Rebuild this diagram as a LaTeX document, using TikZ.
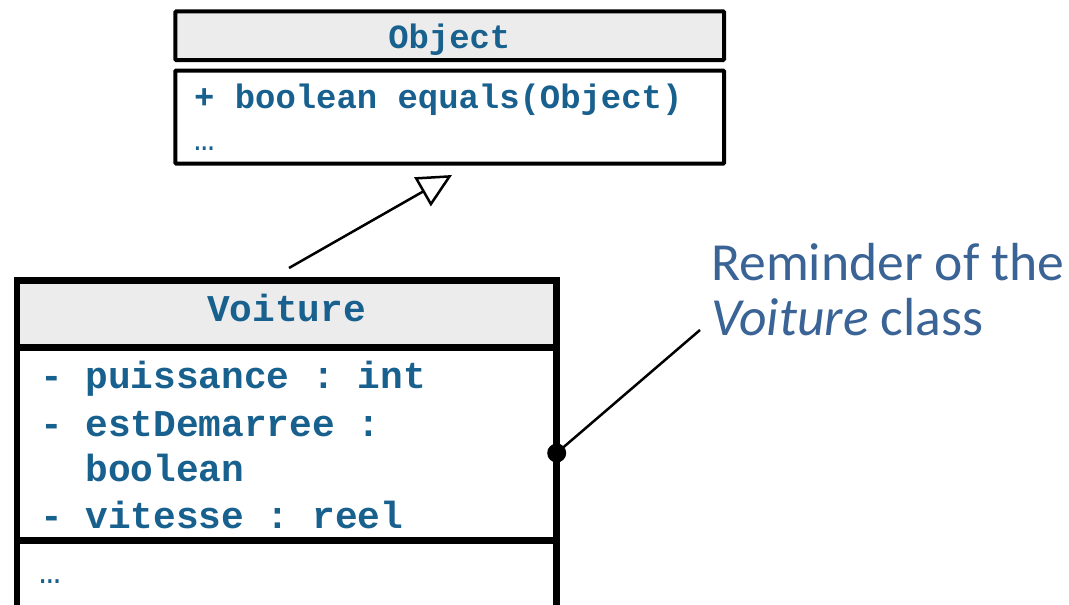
\documentclass[tikz,border=0pt]{standalone}
\usepackage{fontspec}
\setmonofont{Liberation Mono}
\newfontfamily\calloutfont{Carlito}
\usetikzlibrary{arrows.meta}
\definecolor{umltext}{RGB}{24,96,142}
\definecolor{calloutblue}{RGB}{58,99,150}
\definecolor{headgray}{RGB}{236,236,236}
\tikzset{
  objpart/.style={draw=black, line width=4pt, rounded corners=1pt, minimum width=548.7pt, inner sep=0pt},
  carpart/.style={draw=black, line width=6.5pt, minimum width=539.7pt, inner sep=0pt},
  smallcode/.style={inner sep=0pt, text=umltext, font=\fontsize{33.9}{40}\selectfont\ttfamily\bfseries},
  bigcode/.style={inner sep=0pt, text=umltext, font=\fontsize{37.8}{46}\selectfont\ttfamily\bfseries},
  callouttext/.style={inner sep=0pt, anchor=base west, text=calloutblue, font=\fontsize{53.6}{60}\selectfont\calloutfont},
}
\begin{document}
\begin{tikzpicture}[x=1pt,y=-1pt]
  \useasboundingbox (0,0) rectangle (1069,605);
  \clip (0,0) rectangle (1069,605);
  \fill[white] (0,0) rectangle (1069,605);

  % class Object
  \node[objpart, fill=headgray, minimum height=48.7pt] (objHead) at (449.65,35.65) {};
  \node[objpart, fill=white, minimum height=93.2pt] (objBody) at (449.65,117.1) {};
  \node[smallcode, anchor=base] (objName) at (449.3,48) {Object};
  \node[smallcode, anchor=base west] (objMeth) at (194,108) {+ boolean equals(Object)};
  \node[smallcode, anchor=base west, font=\fontsize{34}{40}\selectfont\ttfamily] (objMore) at (194,150) {…};

  % class Voiture
  \node[carpart, fill=headgray, minimum height=67pt] (carHead) at (286.85,314.2) {};
  \node[carpart, fill=white, minimum height=193pt] (carAttr) at (286.85,444.2) {};
  \node[carpart, fill=white, minimum height=120pt] (carOps) at (286.85,600.7) {};
  \node[bigcode, anchor=base] (carName) at (286.5,321) {Voiture};
  \node[bigcode, anchor=base west] (attrA) at (40,388) {- puissance : int};
  \node[bigcode, anchor=base west] (attrB) at (40,436) {- estDemarree :};
  \node[bigcode, anchor=base west] (attrC) at (40,481) {\ \ boolean};
  \node[bigcode, anchor=base west] (attrD) at (40,528) {- vitesse : reel};
  \node[bigcode, anchor=base west, font=\fontsize{36}{42}\selectfont\ttfamily] (carMore) at (39,583) {…};

  % generalisation Voiture -> Object
  \coordinate (genFrom) at (289,268);
  \coordinate (genTo) at (452,175);
  \draw[line width=2.5pt, -{Triangle[length=34pt,width=33pt,fill=white]}] (genFrom) -- (genTo);

  % callout
  \node[circle, fill=black, inner sep=0pt, minimum size=19pt] (pin) at (556.7,453) {};
  \coordinate (calloutEnd) at (700,330);
  \draw[line width=2.5pt] (pin.center) -- (calloutEnd);
  \node[callouttext] (noteA) at (711,280) {Reminder of the};
  \node[callouttext] (noteB) at (711,335) {\textit{Voiture} class};
\end{tikzpicture}
\end{document}
